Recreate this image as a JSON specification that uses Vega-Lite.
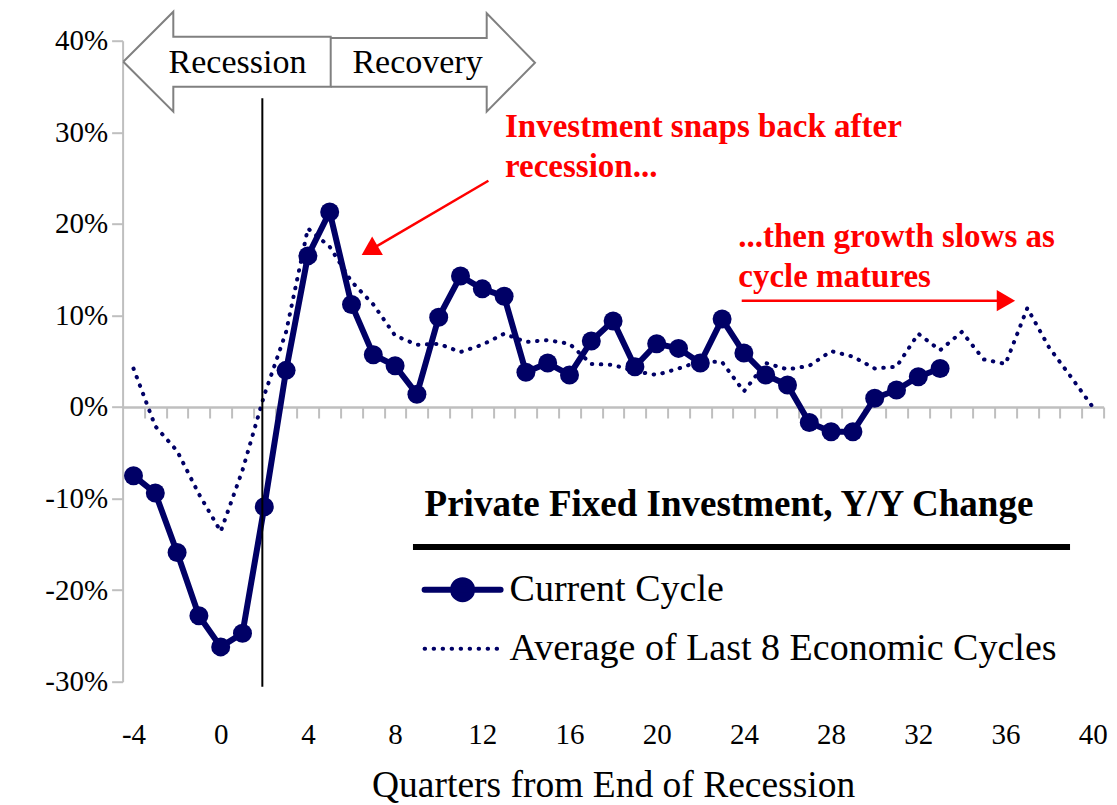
{
  "$schema": "https://vega.github.io/schema/vega-lite/v6.json",
  "width": 981,
  "height": 641,
  "autosize": "none",
  "padding": {"left": 122.6, "top": 40.7, "right": 13.4, "bottom": 123.3},
  "background": "white",
  "config": {"view": {"stroke": null}, "font": "Liberation Serif"},
  "datasets": {
    "series": [
      {"q": -4, "series": "Current Cycle", "pct": -7.5},
      {"q": -3, "series": "Current Cycle", "pct": -9.4},
      {"q": -2, "series": "Current Cycle", "pct": -15.9},
      {"q": -1, "series": "Current Cycle", "pct": -22.8},
      {"q": 0, "series": "Current Cycle", "pct": -26.2},
      {"q": 1, "series": "Current Cycle", "pct": -24.7},
      {"q": 2, "series": "Current Cycle", "pct": -10.9},
      {"q": 3, "series": "Current Cycle", "pct": 4.0},
      {"q": 4, "series": "Current Cycle", "pct": 16.5},
      {"q": 5, "series": "Current Cycle", "pct": 21.3},
      {"q": 6, "series": "Current Cycle", "pct": 11.2},
      {"q": 7, "series": "Current Cycle", "pct": 5.7},
      {"q": 8, "series": "Current Cycle", "pct": 4.5},
      {"q": 9, "series": "Current Cycle", "pct": 1.4},
      {"q": 10, "series": "Current Cycle", "pct": 9.8},
      {"q": 11, "series": "Current Cycle", "pct": 14.3},
      {"q": 12, "series": "Current Cycle", "pct": 12.9},
      {"q": 13, "series": "Current Cycle", "pct": 12.1},
      {"q": 14, "series": "Current Cycle", "pct": 3.8},
      {"q": 15, "series": "Current Cycle", "pct": 4.8},
      {"q": 16, "series": "Current Cycle", "pct": 3.5},
      {"q": 17, "series": "Current Cycle", "pct": 7.2},
      {"q": 18, "series": "Current Cycle", "pct": 9.4},
      {"q": 19, "series": "Current Cycle", "pct": 4.4},
      {"q": 20, "series": "Current Cycle", "pct": 6.9},
      {"q": 21, "series": "Current Cycle", "pct": 6.4},
      {"q": 22, "series": "Current Cycle", "pct": 4.8},
      {"q": 23, "series": "Current Cycle", "pct": 9.6},
      {"q": 24, "series": "Current Cycle", "pct": 5.9},
      {"q": 25, "series": "Current Cycle", "pct": 3.5},
      {"q": 26, "series": "Current Cycle", "pct": 2.4},
      {"q": 27, "series": "Current Cycle", "pct": -1.7},
      {"q": 28, "series": "Current Cycle", "pct": -2.7},
      {"q": 29, "series": "Current Cycle", "pct": -2.7},
      {"q": 30, "series": "Current Cycle", "pct": 0.95},
      {"q": 31, "series": "Current Cycle", "pct": 1.85},
      {"q": 32, "series": "Current Cycle", "pct": 3.3},
      {"q": 33, "series": "Current Cycle", "pct": 4.2},
      {"q": -4, "series": "Average of Last 8 Economic Cycles", "pct": 4.2},
      {"q": -3, "series": "Average of Last 8 Economic Cycles", "pct": -2.1},
      {"q": -2, "series": "Average of Last 8 Economic Cycles", "pct": -4.8},
      {"q": -1, "series": "Average of Last 8 Economic Cycles", "pct": -9.5},
      {"q": 0, "series": "Average of Last 8 Economic Cycles", "pct": -13.6},
      {"q": 1, "series": "Average of Last 8 Economic Cycles", "pct": -6.9},
      {"q": 2, "series": "Average of Last 8 Economic Cycles", "pct": 1.3},
      {"q": 3, "series": "Average of Last 8 Economic Cycles", "pct": 8.2},
      {"q": 4, "series": "Average of Last 8 Economic Cycles", "pct": 19.5},
      {"q": 5, "series": "Average of Last 8 Economic Cycles", "pct": 17.5},
      {"q": 6, "series": "Average of Last 8 Economic Cycles", "pct": 13.7},
      {"q": 7, "series": "Average of Last 8 Economic Cycles", "pct": 11.2},
      {"q": 8, "series": "Average of Last 8 Economic Cycles", "pct": 7.8},
      {"q": 9, "series": "Average of Last 8 Economic Cycles", "pct": 6.8},
      {"q": 10, "series": "Average of Last 8 Economic Cycles", "pct": 6.9},
      {"q": 11, "series": "Average of Last 8 Economic Cycles", "pct": 6.0},
      {"q": 12, "series": "Average of Last 8 Economic Cycles", "pct": 6.8},
      {"q": 13, "series": "Average of Last 8 Economic Cycles", "pct": 8.0},
      {"q": 14, "series": "Average of Last 8 Economic Cycles", "pct": 7.1},
      {"q": 15, "series": "Average of Last 8 Economic Cycles", "pct": 7.3},
      {"q": 16, "series": "Average of Last 8 Economic Cycles", "pct": 6.9},
      {"q": 17, "series": "Average of Last 8 Economic Cycles", "pct": 4.7},
      {"q": 18, "series": "Average of Last 8 Economic Cycles", "pct": 4.6},
      {"q": 19, "series": "Average of Last 8 Economic Cycles", "pct": 3.9},
      {"q": 20, "series": "Average of Last 8 Economic Cycles", "pct": 3.5},
      {"q": 21, "series": "Average of Last 8 Economic Cycles", "pct": 4.2},
      {"q": 22, "series": "Average of Last 8 Economic Cycles", "pct": 5.0},
      {"q": 23, "series": "Average of Last 8 Economic Cycles", "pct": 4.9},
      {"q": 24, "series": "Average of Last 8 Economic Cycles", "pct": 1.7},
      {"q": 25, "series": "Average of Last 8 Economic Cycles", "pct": 4.8},
      {"q": 26, "series": "Average of Last 8 Economic Cycles", "pct": 4.1},
      {"q": 27, "series": "Average of Last 8 Economic Cycles", "pct": 4.5},
      {"q": 28, "series": "Average of Last 8 Economic Cycles", "pct": 6.1},
      {"q": 29, "series": "Average of Last 8 Economic Cycles", "pct": 5.5},
      {"q": 30, "series": "Average of Last 8 Economic Cycles", "pct": 4.2},
      {"q": 31, "series": "Average of Last 8 Economic Cycles", "pct": 4.4},
      {"q": 32, "series": "Average of Last 8 Economic Cycles", "pct": 8.0},
      {"q": 33, "series": "Average of Last 8 Economic Cycles", "pct": 6.2},
      {"q": 34, "series": "Average of Last 8 Economic Cycles", "pct": 8.2},
      {"q": 35, "series": "Average of Last 8 Economic Cycles", "pct": 5.2},
      {"q": 36, "series": "Average of Last 8 Economic Cycles", "pct": 4.7},
      {"q": 37, "series": "Average of Last 8 Economic Cycles", "pct": 10.8},
      {"q": 38, "series": "Average of Last 8 Economic Cycles", "pct": 6.5},
      {"q": 39, "series": "Average of Last 8 Economic Cycles", "pct": 3.3},
      {"q": 40, "series": "Average of Last 8 Economic Cycles", "pct": 0.0}
    ],
    "phases": [
      {"phase": "Recession", "i": 0, "q": -4.468, "pct": 37.71},
      {"phase": "Recession", "i": 1, "q": -2.174, "pct": 43.17},
      {"phase": "Recession", "i": 2, "q": -2.174, "pct": 40.44},
      {"phase": "Recession", "i": 3, "q": 5.046, "pct": 40.44},
      {"phase": "Recession", "i": 4, "q": 5.046, "pct": 34.98},
      {"phase": "Recession", "i": 5, "q": -2.174, "pct": 34.98},
      {"phase": "Recession", "i": 6, "q": -2.174, "pct": 32.25},
      {"phase": "Recession", "i": 7, "q": -4.468, "pct": 37.71},
      {"phase": "Recovery", "i": 0, "q": 5.046, "pct": 40.3},
      {"phase": "Recovery", "i": 1, "q": 12.202, "pct": 40.3},
      {"phase": "Recovery", "i": 2, "q": 12.202, "pct": 42.99},
      {"phase": "Recovery", "i": 3, "q": 14.417, "pct": 37.6},
      {"phase": "Recovery", "i": 4, "q": 12.202, "pct": 32.25},
      {"phase": "Recovery", "i": 5, "q": 12.202, "pct": 34.98},
      {"phase": "Recovery", "i": 6, "q": 5.046, "pct": 34.98}
    ],
    "one": [{}]
  },
  "layer": [
    {
      "data": {"name": "series"},
      "transform": [{"filter": "datum.series === 'Average of Last 8 Economic Cycles'"}],
      "mark": {"type": "line", "strokeDash": [0.5, 8.5], "strokeCap": "round", "strokeWidth": 4},
      "encoding": {
        "x": {
          "field": "q", "type": "quantitative",
          "scale": {"domain": [-4.5, 40.5], "nice": false, "zero": false},
          "axis": {
            "orient": "bottom", "offset": -274.7, "title": null, "labels": false, "grid": false,
            "values": [-3.5, -2.5, -1.5, -0.5, 0.5, 1.5, 2.5, 3.5, 4.5, 5.5, 6.5, 7.5, 8.5, 9.5, 10.5, 11.5, 12.5, 13.5, 14.5, 15.5, 16.5, 17.5, 18.5, 19.5, 20.5, 21.5, 22.5, 23.5, 24.5, 25.5, 26.5, 27.5, 28.5, 29.5, 30.5, 31.5, 32.5, 33.5, 34.5, 35.5, 36.5, 37.5, 38.5, 39.5, 40.5],
            "domainColor": "#bfbfbf", "domainWidth": 2.5, "tickColor": "#bfbfbf", "tickWidth": 2, "tickSize": 11, "zindex": 0
          }
        },
        "y": {
          "field": "pct", "type": "quantitative",
          "scale": {"domain": [-30, 40], "nice": false, "zero": false},
          "axis": {
            "title": null, "grid": false, "values": [-30, -20, -10, 0, 10, 20, 30, 40],
            "labelExpr": "datum.value + '%'", "labelFont": "Liberation Serif", "labelFontSize": 29, "labelColor": "black",
            "labelPadding": 4, "domainColor": "#bfbfbf", "domainWidth": 2, "tickColor": "#bfbfbf", "tickWidth": 2, "tickSize": 11
          }
        },
        "color": {
          "field": "series", "type": "nominal",
          "scale": {"domain": ["Current Cycle", "Average of Last 8 Economic Cycles"], "range": ["#000066", "#000066"]},
          "legend": {
            "orient": "none", "legendX": 302, "legendY": 446, "padding": 0,
            "title": "Private Fixed Investment, Y/Y Change",
            "titleFont": "Liberation Serif", "titleFontSize": 37, "titleFontWeight": "bold", "titleColor": "black", "titlePadding": 47, "titleLimit": 900,
            "labelFont": "Liberation Serif", "labelFontSize": 38, "labelColor": "black", "labelLimit": 900, "labelOffset": 47,
            "symbolSize": 1444, "rowPadding": 18,
            "encode": {
              "symbols": {
                "update": {
                  "shape": {"signal": "datum.value === 'Current Cycle' ? 'M-1,0L3,0M1.5,0A0.5,0.5,0,1,1,0.5,0A0.5,0.5,0,1,1,1.5,0Z' : 'M-1,0L3,0'"},
                  "strokeDash": {"signal": "datum.value === 'Current Cycle' ? [] : [0.5, 8.5]"},
                  "strokeWidth": {"signal": "datum.value === 'Current Cycle' ? 6 : 4"},
                  "strokeCap": {"value": "round"},
                  "fill": {"value": "#000066"},
                  "stroke": {"value": "#000066"},
                  "opacity": {"value": 1}
                }
              }
            }
          }
        }
      }
    },
    {
      "data": {"name": "series"},
      "transform": [{"filter": "datum.series === 'Current Cycle'"}],
      "mark": {"type": "line", "strokeWidth": 6, "strokeJoin": "round"},
      "encoding": {
        "x": {
          "field": "q", "type": "quantitative",
          "axis": {
            "orient": "bottom", "title": "Quarters from End of Recession", "grid": false, "domain": false, "ticks": false, "tickSize": 0,
            "values": [-4, 0, 4, 8, 12, 16, 20, 24, 28, 32, 36, 40],
            "labelExpr": "datum.value + ''",
            "labelFont": "Liberation Serif", "labelFontSize": 29, "labelColor": "black", "labelPadding": 39,
            "titleFont": "Liberation Serif", "titleFontSize": 37.5, "titleFontWeight": "normal", "titleColor": "black", "titlePadding": 17
          }
        },
        "y": {"field": "pct", "type": "quantitative"},
        "color": {"field": "series", "type": "nominal"}
      }
    },
    {
      "data": {"name": "series"},
      "transform": [{"filter": "datum.series === 'Current Cycle'"}],
      "mark": {"type": "point", "filled": true, "size": 361, "opacity": 1, "color": "#000066"},
      "encoding": {
        "x": {"field": "q", "type": "quantitative", "axis": null},
        "y": {"field": "pct", "type": "quantitative"}
      }
    },
    {
      "data": {"name": "one"},
      "mark": {"type": "rule", "color": "black", "strokeWidth": 2},
      "encoding": {
        "x": {"datum": 1.91, "type": "quantitative", "axis": null},
        "y": {"datum": 33.71, "type": "quantitative"},
        "y2": {"datum": -30.55}
      }
    },
    {
      "data": {"name": "phases"},
      "mark": {"type": "line", "color": "#808080", "strokeWidth": 2, "strokeJoin": "miter"},
      "encoding": {
        "x": {"field": "q", "type": "quantitative", "axis": null},
        "y": {"field": "pct", "type": "quantitative"},
        "detail": {"field": "phase"},
        "order": {"field": "i", "type": "quantitative"}
      }
    },
    {
      "data": {"name": "one"},
      "mark": {"type": "text", "text": "Recession", "font": "Liberation Serif", "fontSize": 34, "color": "black", "align": "center", "baseline": "alphabetic"},
      "encoding": {
        "x": {"datum": 0.77, "type": "quantitative", "axis": null},
        "y": {"datum": 36.51, "type": "quantitative"}
      }
    },
    {
      "data": {"name": "one"},
      "mark": {"type": "text", "text": "Recovery", "font": "Liberation Serif", "fontSize": 34, "color": "black", "align": "center", "baseline": "alphabetic"},
      "encoding": {
        "x": {"datum": 9.03, "type": "quantitative", "axis": null},
        "y": {"datum": 36.51, "type": "quantitative"}
      }
    },
    {
      "data": {"name": "one"},
      "mark": {"type": "text", "text": ["Investment snaps back after", "recession..."], "lineHeight": 40.6, "font": "Liberation Serif", "fontWeight": "bold", "fontSize": 33, "color": "#ff0000", "align": "left", "baseline": "alphabetic"},
      "encoding": {
        "x": {"datum": 13.04, "type": "quantitative", "axis": null},
        "y": {"datum": 29.52, "type": "quantitative"}
      }
    },
    {
      "data": {"name": "one"},
      "mark": {"type": "text", "text": ["...then growth slows as", "cycle matures"], "lineHeight": 40.6, "font": "Liberation Serif", "fontWeight": "bold", "fontSize": 33, "color": "#ff0000", "align": "left", "baseline": "alphabetic"},
      "encoding": {
        "x": {"datum": 23.74, "type": "quantitative", "axis": null},
        "y": {"datum": 17.5, "type": "quantitative"}
      }
    },
    {
      "data": {"name": "one"},
      "mark": {"type": "rule", "color": "#ff0000", "strokeWidth": 2.5},
      "encoding": {
        "x": {"datum": 12.28, "type": "quantitative", "axis": null},
        "y": {"datum": 24.71, "type": "quantitative"},
        "x2": {"datum": 6.83},
        "y2": {"datum": 17.1}
      }
    },
    {
      "data": {"name": "one"},
      "mark": {"type": "point", "shape": "triangle-right", "filled": true, "size": 450, "angle": 149.6, "color": "#ff0000", "opacity": 1},
      "encoding": {
        "x": {"datum": 6.83, "type": "quantitative", "axis": null},
        "y": {"datum": 17.1, "type": "quantitative"}
      }
    },
    {
      "data": {"name": "one"},
      "mark": {"type": "rule", "color": "#ff0000", "strokeWidth": 2.5},
      "encoding": {
        "x": {"datum": 23.9, "type": "quantitative", "axis": null},
        "y": {"datum": 11.61, "type": "quantitative"},
        "x2": {"datum": 36.02}
      }
    },
    {
      "data": {"name": "one"},
      "mark": {"type": "point", "shape": "triangle-right", "filled": true, "size": 450, "color": "#ff0000", "opacity": 1},
      "encoding": {
        "x": {"datum": 36.02, "type": "quantitative", "axis": null},
        "y": {"datum": 11.61, "type": "quantitative"}
      }
    },
    {
      "data": {"name": "one"},
      "mark": {"type": "rule", "color": "black", "strokeWidth": 6},
      "encoding": {
        "x": {"datum": 8.82, "type": "quantitative", "axis": null},
        "x2": {"datum": 38.96},
        "y": {"datum": -15.29, "type": "quantitative"}
      }
    }
  ],
  "resolve": {"axis": {"x": "independent"}}
}
